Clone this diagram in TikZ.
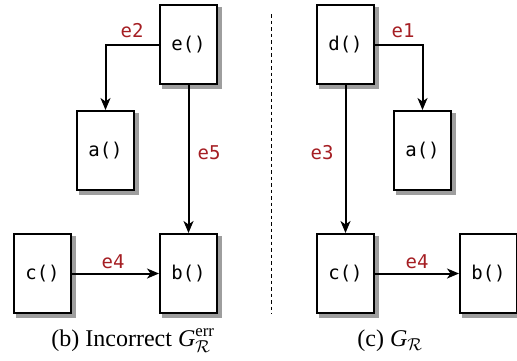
\documentclass[tikz,border=0pt]{standalone}
\usepackage{amsmath}
\usepackage{fontspec}
\setmainfont{Liberation Serif}
\setmonofont{DejaVu Sans Mono}
\usetikzlibrary{arrows.meta,backgrounds}
\definecolor{lblred}{RGB}{165,30,35}
\begin{document}
\begin{tikzpicture}[x=1pt,y=-1pt,
  fbox/.style={draw, line width=2pt, fill=white, minimum width=57pt, minimum height=79pt,
    inner sep=0pt, font=\fontsize{19}{22}\selectfont\ttfamily},
  shadowfill/.style={fill=black!38},
  conn/.style={line width=2pt, -{Stealth[length=12pt,width=10pt,inset=3.5pt]}},
  elabel/.style={text=lblred, font=\fontsize{19}{22}\selectfont\ttfamily, inner sep=0pt},
  captext/.style={font=\fontsize{24}{28}\selectfont, inner sep=0pt}]
\useasboundingbox (0,0) rectangle (517,360);
% left panel
\node[fbox] (e) at (188.5,44.5) {e()};
\node[fbox] (al) at (105.5,150.5) {a()};
\node[fbox] (cl) at (42.5,273.5) {c()};
\node[fbox] (bl) at (188.5,273.5) {b()};
\draw[conn] (e.west) -| (al.north);
\draw[conn] (e.south) -- (bl.north);
\draw[conn] (cl.east) -- (bl.west);
\node[elabel] (le2) at (132,31) {e2};
\node[elabel] (le5) at (209,153) {e5};
\node[elabel] (le4l) at (113,262) {e4};
\node[captext] (capb) at (133,341) {(b) Incorrect $\mbox{\itshape G}^{\text{err}}_{\mathcal{R}}$};
% separator
\coordinate (s1) at (271,14);
\coordinate (s2) at (271,314);
\draw[line width=0.9pt, dash pattern=on 3.5pt off 3pt] (s1) -- (s2);
% right panel
\node[fbox] (d) at (345.5,44.5) {d()};
\node[fbox] (ar) at (422.5,150.5) {a()};
\node[fbox] (cr) at (345.5,273.5) {c()};
\node[fbox] (br) at (488.5,273.5) {b()};
\draw[conn] (d.east) -| (ar.north);
\draw[conn] (d.south) -- (cr.north);
\draw[conn] (cr.east) -- (br.west);
\node[elabel] (le1) at (403,31) {e1};
\node[elabel] (le3) at (322,153) {e3};
\node[elabel] (le4r) at (417,262) {e4};
\node[captext] (capc) at (390,341) {(c) $\mbox{\itshape G}_{\mathcal{R}}$};
% shadows
\begin{scope}[on background layer]
\foreach \n in {e,al,cl,bl,d,ar,cr,br}{
  \fill[shadowfill] ([shift={(3,3)}]\n.north west) rectangle ([shift={(4,4)}]\n.south east);
}
\end{scope}
\end{tikzpicture}
\end{document}
